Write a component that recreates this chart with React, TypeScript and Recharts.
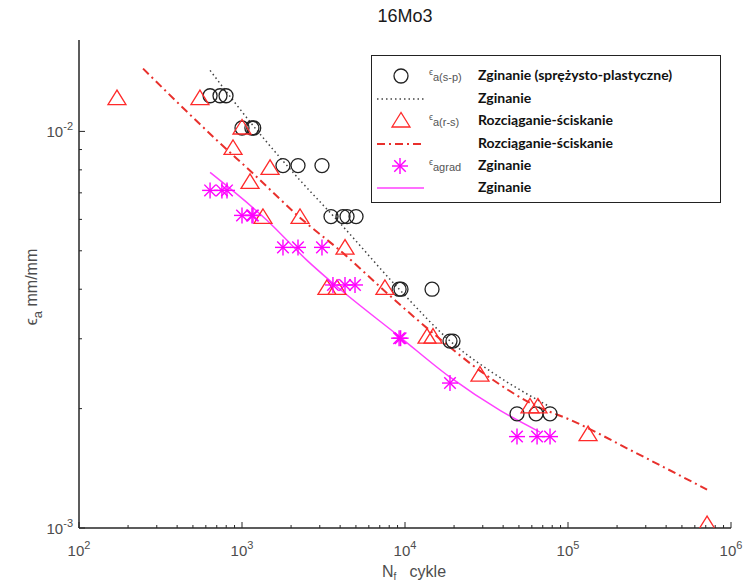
import React from "react";
import { ScatterChart, Scatter, XAxis, YAxis, Legend } from "recharts";

// ε_a(s-p) – bending, elastic-plastic (open circles)
const circleN = [637, 733, 798, 1000, 1150, 1180, 1784, 2206, 3095, 3516, 4165, 4409, 5007, 9200, 9450, 14650, 18880, 19700, 48650, 63640, 77580];
const circleEps = [0.0123, 0.0123, 0.0123, 0.0102, 0.0102, 0.0102, 0.0082, 0.0082, 0.0082, 0.0061, 0.0061, 0.0061, 0.0061, 0.004, 0.004, 0.004, 0.00296, 0.00296, 0.00194, 0.00194, 0.00194];

// ε_a(r-s) – tension-compression (triangles)
const triN = [171, 552, 1000, 881, 1486, 1120, 1345, 2270, 4285, 3320, 3828, 7533, 13650, 14850, 28840, 58480, 65440, 132800, 712900];
const triEps = [0.0121, 0.0121, 0.0102, 0.00906, 0.00807, 0.00744, 0.00607, 0.00607, 0.00508, 0.00402, 0.00402, 0.00402, 0.00303, 0.00303, 0.00243, 0.00202, 0.00202, 0.00172, 0.00102];

// ε_agrad – bending (asterisks)
const starN = [637, 753, 809, 1000, 1151, 1168, 1784, 2206, 3095, 3614, 4285, 4936, 9200, 9400, 18880, 48650, 64600, 77580];
const starEps = [0.0071, 0.0071, 0.0071, 0.00614, 0.00614, 0.00614, 0.0051, 0.0051, 0.0051, 0.0041, 0.0041, 0.0041, 0.00301, 0.00301, 0.00232, 0.0017, 0.0017, 0.0017];

// fitted curves
const dotN = [637, 1236, 2270, 3990, 9316, 19670, 34670, 77580];
const dotEps = [0.01425, 0.01006, 0.00753, 0.00587, 0.00398, 0.00292, 0.00246, 0.00202];

const dashN = [247, 703, 1166, 2366, 3990, 7762, 14850, 30130, 60950, 107400, 250600, 712900];
const dashEps = [0.0144, 0.00949, 0.00784, 0.00597, 0.00501, 0.00391, 0.0031, 0.00246, 0.00205, 0.00186, 0.00156, 0.00125];

const magN = [637, 1422, 2505, 3614, 9316, 18880, 38280, 67300];
const magEps = [0.00788, 0.00597, 0.00473, 0.00414, 0.00303, 0.0024, 0.00198, 0.001745];

const xTicks = [100, 200, 300, 400, 500, 600, 700, 800, 900, 1000, 2000, 3000, 4000, 5000, 6000, 7000, 8000, 9000, 10000, 20000, 30000, 40000, 50000, 60000, 70000, 80000, 90000, 100000, 200000, 300000, 400000, 500000, 600000, 700000, 800000, 900000, 1000000];
const yTicks = [0.001, 0.002, 0.003, 0.004, 0.005, 0.006, 0.007, 0.008, 0.009, 0.01];

const toPts = (n: number[], e: number[]) => n.map((v, i) => ({ n: v, e: e[i] }));

const AXIS = "#262626";
const TXT = "#4d4d4d";
const FONT = "'Liberation Sans', Arial, sans-serif";

const isMajor = (v: number) => Math.abs(Math.log10(v) - Math.round(Math.log10(v))) < 1e-6;
const tl = (v: number) => (isMajor(v) ? 6 : 3);

function BottomTick(props: any) {
  const { x, y, payload } = props;
  const v = payload.value;
  return (
    <g>
      <line x1={x} x2={x} y1={y} y2={y - tl(v)} stroke={AXIS} />
      {isMajor(v) && (
        <text x={x} y={y + 28} textAnchor="middle" fill={TXT} fontSize={15} fontFamily={FONT}>
          10<tspan dy={-7} fontSize={11}>{Math.round(Math.log10(v))}</tspan>
        </text>
      )}
    </g>
  );
}

function TopTick(props: any) {
  const { x, y, payload } = props;
  return <line x1={x} x2={x} y1={y} y2={y + tl(payload.value)} stroke={AXIS} />;
}

function LeftTick(props: any) {
  const { x, y, payload } = props;
  const v = payload.value;
  return (
    <g>
      <line x1={x} x2={x + tl(v)} y1={y} y2={y} stroke={AXIS} />
      {isMajor(v) && (
        <text x={x - 6} y={y + 6} textAnchor="end" fill={TXT} fontSize={15} fontFamily={FONT}>
          10<tspan dy={-7} fontSize={11}>{Math.round(Math.log10(v))}</tspan>
        </text>
      )}
    </g>
  );
}

function RightTick(props: any) {
  const { x, y, payload } = props;
  return <line x1={x} x2={x - tl(payload.value)} y1={y} y2={y} stroke={AXIS} />;
}

const Circle = (p: any) => <circle cx={p.cx} cy={p.cy} r={7} fill="none" stroke="#222" strokeWidth={1.3} />;
const Tri = (p: any) => (
  <polygon
    points={`${p.cx},${p.cy - 8.5} ${p.cx - 9},${p.cy + 6} ${p.cx + 9},${p.cy + 6}`}
    fill="none"
    stroke="#ff2a2a"
    strokeWidth={1.3}
  />
);
const Star = (p: any) => {
  const r = 8;
  const d = r * 0.72;
  return (
    <g stroke="#ff00ff" strokeWidth={1.4}>
      <line x1={p.cx - r} x2={p.cx + r} y1={p.cy} y2={p.cy} />
      <line x1={p.cx} x2={p.cx} y1={p.cy - r} y2={p.cy + r} />
      <line x1={p.cx - d} x2={p.cx + d} y1={p.cy - d} y2={p.cy + d} />
      <line x1={p.cx - d} x2={p.cx + d} y1={p.cy + d} y2={p.cy - d} />
    </g>
  );
};
const NoShape = () => <g />;

function EpsLabel({ sub, x, y }: { sub: string; x: number; y: number }) {
  return (
    <div style={{ position: "absolute", left: x, top: y, fontFamily: FONT, color: "#555", whiteSpace: "nowrap" }}>
      <span style={{ fontSize: 9, position: "relative", top: -3 }}>ϵ</span>
      <span style={{ fontSize: 11, position: "relative", top: 3 }}>{sub}</span>
    </div>
  );
}

function LegendBox() {
  const txt: React.CSSProperties = {
    position: "absolute",
    left: 106,
    fontFamily: "Lato, 'Open Sans', sans-serif",
    fontWeight: 700,
    fontSize: 14,
    color: "#111",
    whiteSpace: "nowrap",
  };
  const rows = [
    { y: 20, text: "Zginanie (sprężysto-plastyczne)" },
    { y: 43, text: "Zginanie" },
    { y: 65, text: "Rozciąganie-ściskanie" },
    { y: 88, text: "Rozciąganie-ściskanie" },
    { y: 110, text: "Zginanie" },
    { y: 132, text: "Zginanie" },
  ];
  return (
    <div style={{ position: "relative", width: 348, height: 146, border: "1.5px solid #222", background: "#fff" }}>
      <svg width={348} height={146} style={{ position: "absolute", left: 0, top: 0 }}>
        {Circle({ cx: 29, cy: 20 })}
        <line x1={5} x2={52} y1={43} y2={43} stroke="#444" strokeWidth={1.5} strokeDasharray="1.5 3" />
        {Tri({ cx: 29, cy: 65 })}
        <line x1={5} x2={52} y1={88} y2={88} stroke="#e8302c" strokeWidth={2} strokeDasharray="8 4 2 4" />
        {Star({ cx: 28, cy: 110 })}
        <line x1={5} x2={52} y1={132} y2={132} stroke="#ff40ff" strokeWidth={1.5} />
      </svg>
      <EpsLabel sub="a(s-p)" x={57} y={8} />
      <EpsLabel sub="a(r-s)" x={57} y={53} />
      <EpsLabel sub="agrad" x={57} y={98} />
      {rows.map((r) => (
        <div key={r.y + r.text} style={{ ...txt, top: r.y - 10 }}>
          {r.text}
        </div>
      ))}
    </div>
  );
}

export default function App() {
  return (
    <div style={{ position: "absolute", left: 0, top: 0, width: 746, height: 585, background: "#fff" }}>
      <ScatterChart width={746} height={585} margin={{ top: 40, right: 15, bottom: 0, left: 0 }}>
        <XAxis
          xAxisId="b"
          dataKey="n"
          type="number"
          scale="log"
          domain={[100, 1000000]}
          allowDataOverflow
          ticks={xTicks}
          interval={0}
          height={57}
          tickSize={0}
          tickMargin={0}
          tick={BottomTick}
          axisLine={{ stroke: AXIS, strokeWidth: 1.5 }}
        />
        <XAxis
          xAxisId="t"
          orientation="top"
          dataKey="n"
          type="number"
          scale="log"
          domain={[100, 1000000]}
          allowDataOverflow
          ticks={xTicks}
          interval={0}
          height={0}
          tickSize={0}
          tickMargin={0}
          tick={TopTick}
          axisLine={{ stroke: AXIS, strokeWidth: 1.5 }}
        />
        <YAxis
          yAxisId="l"
          dataKey="e"
          type="number"
          scale="log"
          domain={[0.001, 0.017]}
          allowDataOverflow
          ticks={yTicks}
          interval={0}
          width={79}
          tickSize={0}
          tickMargin={0}
          tick={LeftTick}
          axisLine={{ stroke: AXIS, strokeWidth: 1.5 }}
        />
        <YAxis
          yAxisId="r"
          orientation="right"
          dataKey="e"
          type="number"
          scale="log"
          domain={[0.001, 0.017]}
          allowDataOverflow
          ticks={yTicks}
          interval={0}
          width={0}
          tickSize={0}
          tickMargin={0}
          tick={RightTick}
          axisLine={{ stroke: AXIS, strokeWidth: 1.5 }}
        />
        <Scatter xAxisId="t" yAxisId="r" data={toPts([1000], [0.005])} shape={NoShape} isAnimationActive={false} />

        <Scatter xAxisId="b" yAxisId="l" data={toPts(dotN, dotEps)} shape={NoShape} line={{ stroke: "#444", strokeWidth: 1.5, strokeDasharray: "1.5 3" }} lineJointType="monotoneX" isAnimationActive={false} />
        <Scatter xAxisId="b" yAxisId="l" data={toPts(dashN, dashEps)} shape={NoShape} line={{ stroke: "#e8302c", strokeWidth: 2, strokeDasharray: "8 4 2 4" }} lineJointType="monotoneX" isAnimationActive={false} />
        <Scatter xAxisId="b" yAxisId="l" data={toPts(magN, magEps)} shape={NoShape} line={{ stroke: "#ff40ff", strokeWidth: 1.5 }} lineJointType="monotoneX" isAnimationActive={false} />

        <Scatter xAxisId="b" yAxisId="l" data={toPts(circleN, circleEps)} shape={Circle} isAnimationActive={false} />
        <Scatter xAxisId="b" yAxisId="l" data={toPts(triN, triEps)} shape={Tri} isAnimationActive={false} />
        <Scatter xAxisId="b" yAxisId="l" data={toPts(starN, starEps)} shape={Star} isAnimationActive={false} />

        <Legend
          layout="horizontal"
          verticalAlign="middle"
          align="center"
          content={() => <LegendBox />}
          wrapperStyle={{ left: 371, top: 55, width: 351, height: 149 }}
        />

        <text x={405} y={22} textAnchor="middle" fontSize={18} fontFamily={FONT} fill="#1a1a1a">16Mo3</text>
        <text x={414} y={577} textAnchor="middle" fontSize={16} fontFamily={FONT} fill={TXT}>
          N<tspan dy={3} fontSize={10}>f</tspan>
          <tspan dy={-3}>{"\u00a0\u00a0\u00a0cykle"}</tspan>
        </text>
        <text transform="translate(37,287) rotate(-90)" textAnchor="middle" fontSize={16} fontFamily={FONT} fill={TXT}>
          ϵ<tspan dy={5} fontSize={13}>a</tspan>
          <tspan dy={-5}>{"\u00a0mm/mm"}</tspan>
        </text>
      </ScatterChart>
    </div>
  );
}
